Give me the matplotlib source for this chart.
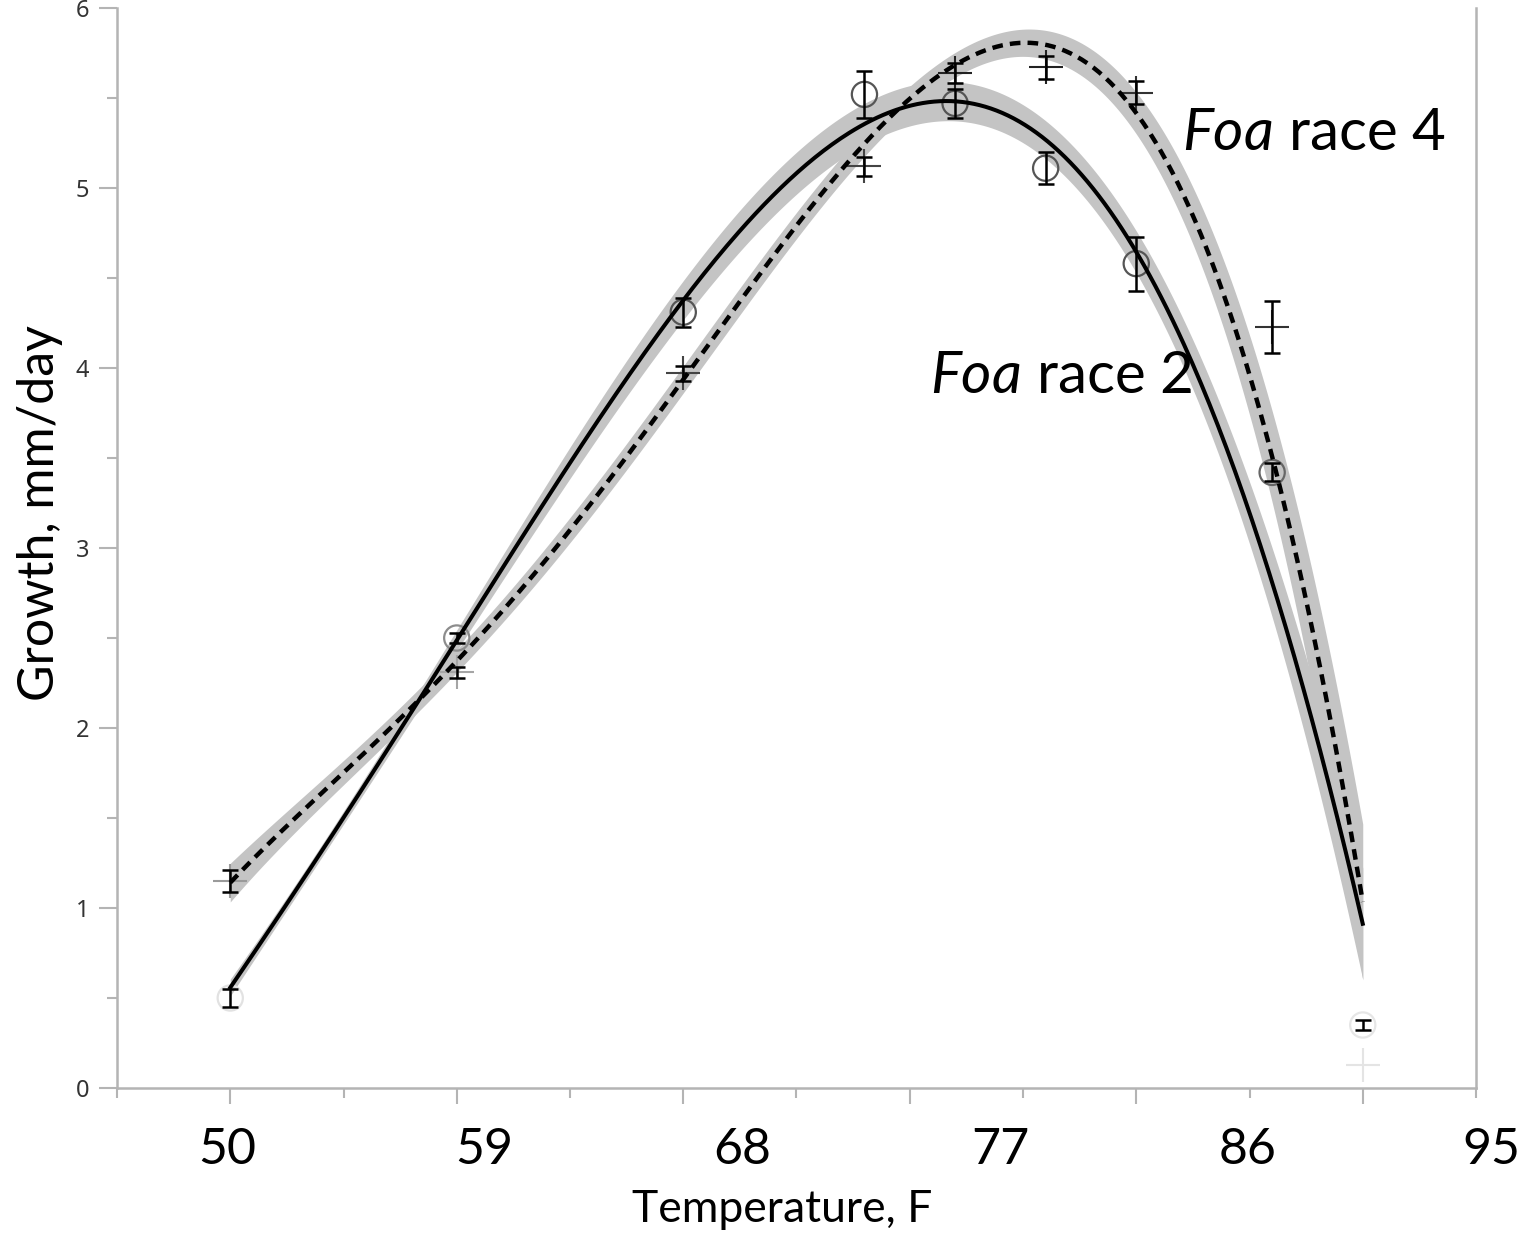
import numpy as np
import matplotlib.pyplot as plt
from matplotlib.ticker import MultipleLocator

plt.rcParams['font.family'] = ['Lato', 'DejaVu Sans']
plt.rcParams['mathtext.fontset'] = 'custom'
plt.rcParams['mathtext.it'] = 'Lato:italic'
plt.rcParams['mathtext.rm'] = 'Lato'

# mean growth (mm/day) at each temperature (deg C on the axis, labelled in F)
temp_c = [10, 15, 20, 24, 26, 28, 30, 33, 35]
race2_mean = [0.50, 2.50, 4.31, 5.52, 5.47, 5.11, 4.58, 3.42, 0.35]
race2_se = [0.05, 0.03, 0.08, 0.13, 0.08, 0.09, 0.15, 0.05, 0.03]
race4_mean = [1.15, 2.31, 3.97, 5.12, 5.64, 5.67, 5.53, 4.23, 0.13]
race4_se = [0.06, 0.03, 0.04, 0.055, 0.055, 0.065, 0.065, 0.145, 0.0]

# fitted curves and their confidence half-widths
fit_temp = [10, 12.5, 15, 17.5, 20, 22, 24, 26, 28, 30, 31, 32, 33, 34, 35]
race2_fit = [0.55, 1.52, 2.49, 3.45, 4.36, 4.97, 5.39, 5.49, 5.27, 4.62, 4.12, 3.52, 2.85,
             2.02, 0.85]
race2_ci = [0.04, 0.05, 0.06, 0.08, 0.10, 0.11, 0.12, 0.12, 0.11, 0.12, 0.13, 0.15, 0.18,
            0.24, 0.32]
race4_fit = [1.15, 1.73, 2.37, 3.12, 3.96, 4.63, 5.19, 5.66, 5.79, 5.55, 5.00, 4.28, 3.45,
             2.42, 1.06]
race4_ci = [0.10, 0.08, 0.07, 0.06, 0.06, 0.07, 0.08, 0.08, 0.08, 0.12, 0.15, 0.19, 0.24,
            0.32, 0.45]

tick_f = ['50', '59', '68', '77', '86', '95']
tick_f_pos = [9.93, 15.6, 21.3, 27.0, 32.45, 37.85]

# marker shades (some points are drawn very pale in the original)
race2_shade = ['#e2e2e2', '#8c8c8c', '#555555', '#555555', '#555555', '#555555',
               '#555555', '#666666', '#e6e6e6']
race4_shade = ['#9a9a9a', '#a5a5a5', '#444444', '#444444', '#222222', '#222222',
               '#333333', '#333333', '#e4e4e4']

axis_gray = '#b4b4b4'

fig = plt.figure(figsize=(15.21, 12.33), dpi=100)
ax = fig.add_axes([117 / 1521, 1 - 1088 / 1233, 1359 / 1521, 1080 / 1233])

xs = np.linspace(10, 35, 400)


def smooth(vals, deg=5):
    return np.polyval(np.polyfit(fit_temp, vals, deg), xs)


r2_line = smooth(race2_fit)
r2_band = smooth(race2_ci, 4)
r4_line = smooth(race4_fit)
r4_band = smooth(race4_ci, 4)

# confidence bands
ax.fill_between(xs, r4_line - r4_band, r4_line + r4_band, color='#c4c4c4', lw=0, zorder=1)
ax.fill_between(xs, r2_line - r2_band, r2_line + r2_band, color='#c4c4c4', lw=0, zorder=1)

# markers
ax.scatter(temp_c, race2_mean, s=330, marker='o', facecolors='none',
           edgecolors=race2_shade, linewidths=1.6, zorder=2)
ax.scatter(temp_c, race4_mean, s=600, marker='+', c=race4_shade,
           linewidths=1.5, zorder=2)

# error bars
t = np.array(temp_c)
for m, e in [(race2_mean, race2_se), (race4_mean, race4_se)]:
    e = np.array(e)
    keep = e > 0
    ax.errorbar(t[keep], np.array(m)[keep], yerr=e[keep], fmt='none', ecolor='black',
                elinewidth=1.8, capsize=6, capthick=1.8, zorder=3)

# fit lines
ax.plot(xs, r2_line, color='black', lw=2.9, zorder=4)
ax.plot(xs, r4_line, color='black', lw=3.2, ls=(0, (2.4, 1.6)), zorder=4)

ax.text(31.02, 5.21, r'$\it{Foa}$ race 4', fontsize=42, va='baseline', ha='left')
ax.text(25.45, 3.86, r'$\it{Foa}$ race 2', fontsize=42, va='baseline', ha='left')

# axes
ax.set_xlim(7.5, 37.5)
ax.set_ylim(0, 6)
ax.spines['top'].set_visible(False)
for s in ['left', 'right', 'bottom']:
    ax.spines[s].set_color(axis_gray)
    ax.spines[s].set_linewidth(1.8)

ax.xaxis.set_major_locator(MultipleLocator(5))
ax.xaxis.set_minor_locator(MultipleLocator(2.5))
ax.yaxis.set_major_locator(MultipleLocator(1))
ax.yaxis.set_minor_locator(MultipleLocator(0.5))
ax.tick_params(axis='both', which='both', color=axis_gray, width=1.5)
ax.tick_params(axis='x', which='major', length=11.5, labelbottom=False)
ax.tick_params(axis='x', which='minor', length=7)
ax.tick_params(axis='y', which='major', length=13, pad=7, labelsize=17,
               labelcolor='#333333')
ax.tick_params(axis='y', which='minor', length=7)
for lab in ax.get_yticklabels():
    lab.set_fontfamily('Noto Sans')

for pos, lab in zip(tick_f_pos, tick_f):
    ax.text(pos, -0.0574, lab, transform=ax.get_xaxis_transform(),
            fontsize=36, ha='center', va='center')

fig.text(782 / 1521, 1 - 1210 / 1233, 'Temperature, F', fontsize=32,
         ha='center', va='center')
fig.text(40 / 1521, 1 - 513 / 1233, 'Growth, mm/day', fontsize=36,
         rotation=90, ha='center', va='center')

fig.savefig('out.png', dpi=100)
